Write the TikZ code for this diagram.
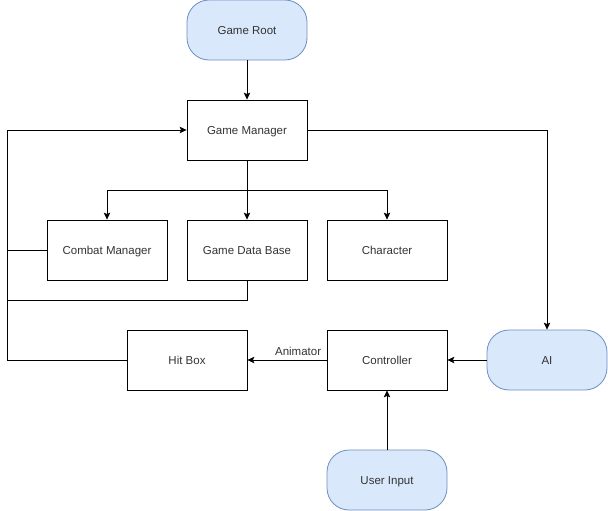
\documentclass[tikz,border=0pt]{standalone}
\usepackage{fontspec}
\setmainfont{Liberation Sans}
\usetikzlibrary{arrows.meta}
\definecolor{bluefill}{HTML}{DAE8FC}
\definecolor{blueline}{HTML}{6C8EBF}
\definecolor{txt}{HTML}{333333}
\begin{document}
\begin{tikzpicture}[x=1pt,y=-1pt,
  box/.style={draw=black, line width=0.8pt, minimum width=120pt, minimum height=60pt, inner sep=0pt, text=txt, text height=8.3pt, text depth=0pt, font=\fontsize{11.5}{13}\selectfont},
  term/.style={box, draw=blueline, fill=bluefill, rounded corners=22pt},
  conn/.style={draw=black, line width=0.8pt},
  arr/.style={conn, -{Stealth[length=7pt,width=6.5pt,inset=1.5pt]}},
  lbl/.style={text=txt, font=\fontsize{11.5}{13}\selectfont, inner sep=0pt, text height=8.3pt, text depth=0pt}
]
\useasboundingbox (0,0) rectangle (608,511);
\node[term] (root) at (247,30) {Game Root};
\node[box] (gm) at (247,130) {Game Manager};
\node[box] (cm) at (107,250) {Combat Manager};
\node[box] (db) at (247,250) {Game Data Base};
\node[box] (ch) at (387,250) {Character};
\node[box] (hb) at (187,360) {Hit Box};
\node[box] (ct) at (387,360) {Controller};
\node[term] (ai) at (547,360) {AI};
\node[term] (ui) at (387,480) {User Input};

\coordinate (split) at (247,190);
\coordinate (lt) at (7,130);
\coordinate (lb) at (7,360);

\draw[arr] (root) -- (gm);
\draw[arr] (gm.east) -| (ai.north);
\draw[arr] (gm.south) -- (db.north);
\draw[arr] (split) -| (cm.north);
\draw[arr] (split) -| (ch.north);
\draw[arr] (hb.west) -- (lb) -- (lt) -- (gm.west);
\draw[conn] (cm.west) -- (lb |- cm.west);
\draw[conn] (db.south) -- (247,300) -- (7,300);
\draw[arr] (ct.west) -- node[lbl, pos=0.36, yshift=9pt] {Animator} (hb.east);
\draw[arr] (ai.west) -- (ct.east);
\draw[arr] (ui.north) -- (ct.south);
\end{tikzpicture}
\end{document}
